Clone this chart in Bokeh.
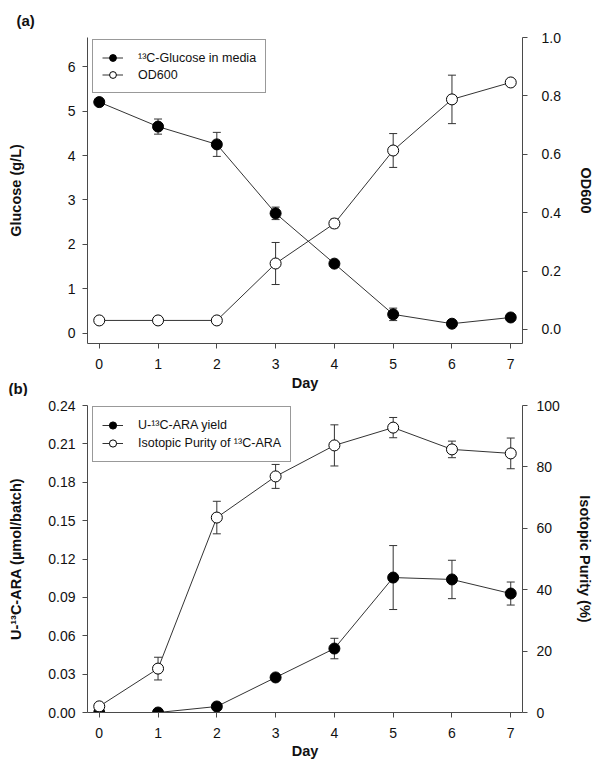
from bokeh.plotting import figure
from bokeh.models import (Range1d, LinearAxis, FixedTicker, NumeralTickFormatter,
                          Whisker, TeeHead, ColumnDataSource, Legend, LegendItem, Title)
from bokeh.layouts import column
from bokeh.embed import file_html
from bokeh.resources import INLINE

# ---------------- data ----------------
days = [0, 1, 2, 3, 4, 5, 6, 7]

# panel (a)
glucose = [5.20, 4.65, 4.25, 2.70, 1.57, 0.43, 0.22, 0.36]
glucose_err = [0, 0.17, 0.27, 0.14, 0, 0.14, 0, 0]
od600 = [0.031, 0.031, 0.031, 0.226, 0.363, 0.613, 0.788, 0.846]
od600_err = [0, 0, 0, 0.072, 0.015, 0.058, 0.083, 0]

# panel (b)
ara_yield = [0.0, 0.0, 0.0047, 0.0274, 0.050, 0.1055, 0.104, 0.093]
ara_yield_err = [0, 0, 0, 0, 0.008, 0.025, 0.015, 0.009]
purity = [2.0, 14.3, 63.5, 76.9, 87.0, 92.8, 85.7, 84.4]
purity_err = [0, 3.7, 5.3, 3.9, 6.7, 3.3, 2.7, 5.0]

x_ticks = [0, 1, 2, 3, 4, 5, 6, 7]
glucose_ticks = [0, 1, 2, 3, 4, 5, 6]
od_ticks = [0.0, 0.2, 0.4, 0.6, 0.8, 1.0]
ara_ticks = [0.00, 0.03, 0.06, 0.09, 0.12, 0.15, 0.18, 0.21, 0.24]
purity_ticks = [0, 20, 40, 60, 80, 100]

FONT = "Liberation Sans"
LINE = "#333333"
AX = "#4a4a4a"


def style_axis(ax, label_standoff, axis_standoff, label=None):
    ax.axis_line_color = AX
    ax.axis_line_width = 1
    ax.major_tick_line_color = AX
    ax.minor_tick_line_color = None
    ax.major_tick_out = 5
    ax.major_tick_in = 0
    ax.major_label_text_font = FONT
    ax.major_label_text_font_size = "14px"
    ax.major_label_text_color = "#111111"
    ax.major_label_standoff = label_standoff
    ax.axis_label_text_font = FONT
    ax.axis_label_text_font_style = "bold"
    ax.axis_label_text_font_size = "14.5px"
    ax.axis_label_text_color = "#111111"
    ax.axis_label_standoff = axis_standoff
    if label is not None:
        ax.axis_label = label


def err_source(xs, ys, es):
    xx, up, lo = [], [], []
    for x, y, e in zip(xs, ys, es):
        if e > 0:
            xx.append(x)
            up.append(y + e)
            lo.append(y - e)
    return ColumnDataSource(dict(x=xx, upper=up, lower=lo))


def add_err(p, xs, ys, es, y_range_name="default"):
    src = err_source(xs, ys, es)
    w = Whisker(source=src, base="x", upper="upper", lower="lower",
                y_range_name=y_range_name, line_color=LINE, line_width=1,
                upper_head=TeeHead(size=8, line_color=LINE, line_width=1),
                lower_head=TeeHead(size=8, line_color=LINE, line_width=1))
    p.add_layout(w)


def series(p, xs, ys, filled, y_range_name="default"):
    rl = p.line(xs, ys, line_color=LINE, line_width=1, y_range_name=y_range_name)
    rs = p.scatter(xs, ys, marker="circle", size=11,
                   fill_color="black" if filled else "white",
                   line_color="black", line_width=1, y_range_name=y_range_name)
    return [rl, rs]


def base_fig(height, y0, y1, top, bottom):
    p = figure(width=596, height=height, title=None,
               x_range=Range1d(-0.2, 7.2), y_range=Range1d(y0, y1),
               output_backend="svg", toolbar_location=None,
               min_border_left=87, min_border_right=70,
               min_border_top=top, min_border_bottom=bottom)
    p.xgrid.grid_line_color = None
    p.ygrid.grid_line_color = None
    p.outline_line_color = None
    p.background_fill_color = "white"
    p.border_fill_color = "white"
    p.xaxis.ticker = FixedTicker(ticks=x_ticks)
    return p


def tag(text, offset, standoff, valign):
    return Title(text=text, align="left", offset=offset, standoff=standoff,
                 vertical_align=valign, text_font=FONT, text_font_style="bold",
                 text_font_size="15px", text_color="#111111")


# ---------------- panel (a) ----------------
p1 = base_fig(396, -0.225, 6.652, 37, 53)
p1.yaxis.ticker = FixedTicker(ticks=glucose_ticks)
p1.extra_y_ranges = {"od": Range1d(-0.048, 1.0)}
ax_od = LinearAxis(y_range_name="od", ticker=FixedTicker(ticks=od_ticks),
                   formatter=NumeralTickFormatter(format="0.0"))
p1.add_layout(ax_od, "right")

style_axis(p1.below[0], 10, 3, "Day")
style_axis(p1.left[0], 7, 41, "Glucose (g/L)")
style_axis(ax_od, 14, 14, "OD600")

add_err(p1, days, glucose, glucose_err)
add_err(p1, days, od600, od600_err, "od")
r_glu = series(p1, days, glucose, True)
r_od = series(p1, days, od600, False, "od")

leg1 = Legend(items=[LegendItem(label="\u00b9\u00b3C-Glucose in media", renderers=r_glu),
                     LegendItem(label="OD600", renderers=r_od)],
              location=(5, 306 - 56), padding=9, spacing=0, margin=0,
              glyph_width=21, glyph_height=17, label_height=17, label_standoff=15,
              border_line_color="#333333", border_line_width=1,
              label_text_font=FONT, label_text_font_size="12.5px",
              label_text_color="#111111", background_fill_alpha=1)
p1.add_layout(leg1)

# panel tags as titles
p1.add_layout(tag("(a)", -71, 18, "bottom"), "above")
p1.add_layout(tag("(b)", -79, -28, "top"), "below")

# ---------------- panel (b) ----------------
p2 = base_fig(368, 0.0, 0.24, 9, 52)
p2.yaxis.ticker = FixedTicker(ticks=ara_ticks)
p2.yaxis.formatter = NumeralTickFormatter(format="0.00")
p2.extra_y_ranges = {"pur": Range1d(0, 100)}
ax_pur = LinearAxis(y_range_name="pur", ticker=FixedTicker(ticks=purity_ticks))
p2.add_layout(ax_pur, "right")

style_axis(p2.below[0], 10, 2, "Day")
style_axis(p2.left[0], 7, 21, "U-\u00b9\u00b3C-ARA (\u00b5mol/batch)")
style_axis(ax_pur, 9, 14, "Isotopic Purity (%)")

add_err(p2, days, ara_yield, ara_yield_err)
add_err(p2, days, purity, purity_err, "pur")
r_ara = series(p2, days, ara_yield, True)
r_pur = series(p2, days, purity, False, "pur")

leg2 = Legend(items=[LegendItem(label="U-\u00b9\u00b3C-ARA yield", renderers=r_ara),
                     LegendItem(label="Isotopic Purity of \u00b9\u00b3C-ARA", renderers=r_pur)],
              location=(5, 307 - 57), padding=9, spacing=0, margin=0,
              glyph_width=21, glyph_height=18, label_height=18, label_standoff=15,
              border_line_color="#333333", border_line_width=1,
              label_text_font=FONT, label_text_font_size="12.5px",
              label_text_color="#111111", background_fill_alpha=1)
p2.add_layout(leg2)

layout = column(p1, p2, spacing=0)
open("out.html", "w").write(file_html(layout, INLINE))
